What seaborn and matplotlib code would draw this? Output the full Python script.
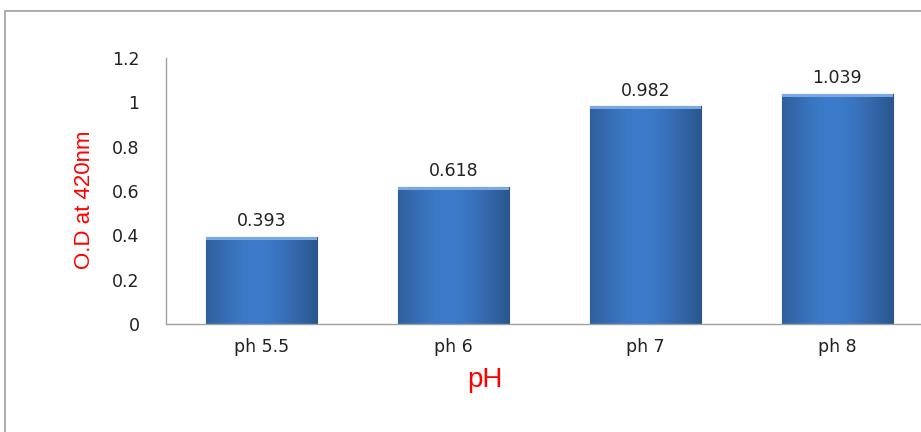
import numpy as np
import pandas as pd
import matplotlib
matplotlib.use("Agg")
import matplotlib.pyplot as plt
import seaborn as sns
from matplotlib.patches import Rectangle

categories = ["ph 5.5", "ph 6", "ph 7", "ph 8"]
od_values = [0.393, 0.618, 0.982, 1.039]
y_ticks = [0, 0.2, 0.4, 0.6, 0.8, 1.0, 1.2]
y_tick_labels = ["0", "0.2", "0.4", "0.6", "0.8", "1", "1.2"]

sns.set_style("white")
plt.rcParams["font.family"] = ["DejaVu Sans"]

df = pd.DataFrame({"ph": categories, "od": od_values})

fig = plt.figure(figsize=(9.21, 4.32), dpi=100)
ax = fig.add_axes([0.1802, 0.25, 0.833, 0.6157])

sns.barplot(data=df, x="ph", y="od", color="#3b78c8", width=0.58,
            edgecolor="#2a5a9a", linewidth=0.8, saturation=1, ax=ax)

# horizontal shading across each bar for a rounded look
grad = np.linspace(0, 1, 256)
shade = 1 - 0.35 * np.abs(grad - 0.45) ** 1.5 * 2.2
base = np.array([0x3d, 0x7c, 0xcc]) / 255.0
img = np.clip(shade[None, :, None] * base[None, None, :], 0, 1)
for p in ax.patches:
    x0, y0 = p.get_x(), p.get_y()
    w, h = p.get_width(), p.get_height()
    im = ax.imshow(img, extent=[x0, x0 + w, y0, y0 + h], aspect="auto",
                   zorder=p.get_zorder() + 0.1, interpolation="bilinear")
    im.set_clip_path(p)
    # light bevel along the top edge
    ax.add_patch(Rectangle((x0, y0 + h - 0.014), w, 0.014,
                           facecolor="#7aa8e0", edgecolor="none",
                           zorder=p.get_zorder() + 0.2))
    ax.text(x0 + w / 2, y0 + h + 0.03, f"{h:.3f}", ha="center", va="bottom",
            fontsize=12.5, color="#222222")

ax.set_ylim(0, 1.2)
ax.set_xlim(-0.5, 3.5)
ax.set_yticks(y_ticks)
ax.set_yticklabels(y_tick_labels, fontsize=12.5, color="#222222")
ax.tick_params(axis="y", length=0, pad=19)
ax.tick_params(axis="x", length=0, pad=10, labelsize=12.5, labelcolor="#222222")
ax.set_xlabel("")
ax.set_ylabel("")

for s in ["top", "right"]:
    ax.spines[s].set_visible(False)
for s in ["left", "bottom"]:
    ax.spines[s].set_color("#a0a0a0")
    ax.spines[s].set_linewidth(1.0)

fig.text(0.092, 0.537, "O.D at 420nm", rotation=90, ha="center", va="center",
         color="red", fontsize=16, family=["Liberation Sans"])
fig.text(0.527, 0.12, "pH", ha="center", va="center", color="red",
         fontsize=20, family=["Liberation Sans"])

# outer chart frame
fig.patches.append(Rectangle((5 / 921, -0.1), 1.2, 1 - 11 / 432 + 0.1,
                             transform=fig.transFigure, fill=False,
                             edgecolor="#a0a0a0", linewidth=1.2))

fig.savefig("out.png", dpi=100)
